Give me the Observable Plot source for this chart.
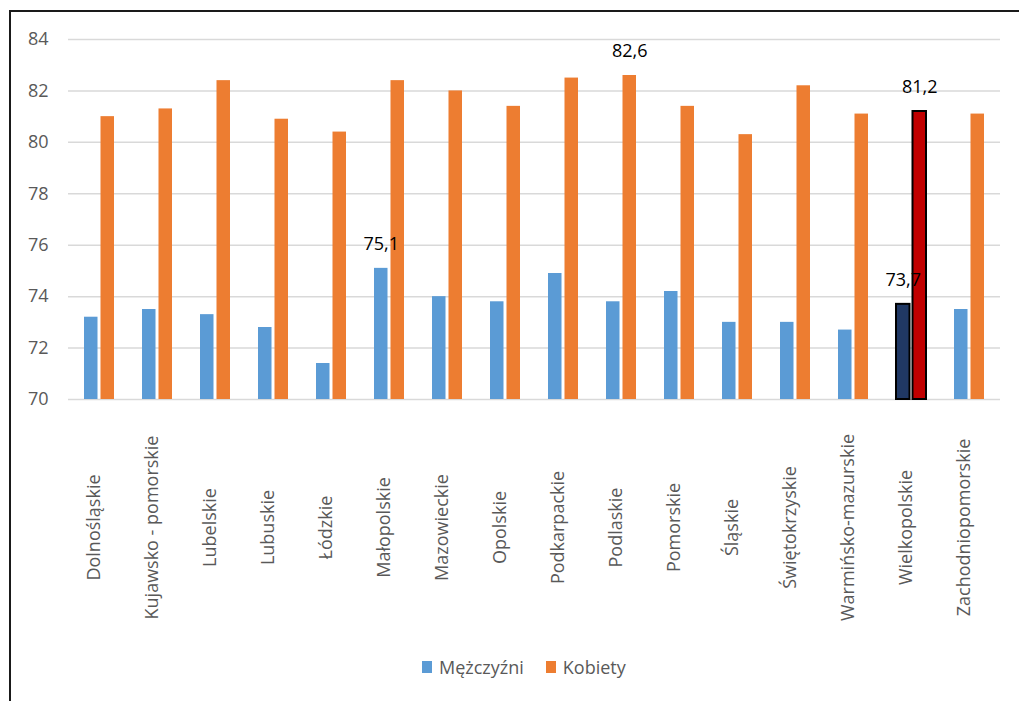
<!DOCTYPE html>
<html>
<head>
<meta charset="utf-8">
<script src="https://cdn.jsdelivr.net/npm/d3@7"></script>
<script src="https://cdn.jsdelivr.net/npm/@observablehq/plot@0.6"></script>
<style>
  html, body { margin: 0; padding: 0; background: #fff; overflow: hidden; }
  #frame { position: absolute; left: 9px; top: 10px; width: 1100px; height: 800px;
           border-left: 2px solid #1a1a1a; border-top: 2px solid #1a1a1a; }
  #chart { position: absolute; left: 0; top: 0; }
  #legend { position: absolute; top: 655px; left: 422px; display: flex; align-items: center;
            font-family: "Open Sans", sans-serif; font-size: 18px; color: #595959; }
  #legend .item { display: flex; align-items: center; margin-right: 22px; }
  #legend .sw { width: 10px; height: 12px; margin-right: 7px; }
</style>
</head>
<body>
<div id="frame"></div>
<div id="chart"></div>
<div id="legend"></div>
<script>
const regions = ["Dolnośląskie", "Kujawsko - pomorskie", "Lubelskie", "Lubuskie", "Łódzkie",
  "Małopolskie", "Mazowieckie", "Opolskie", "Podkarpackie", "Podlaskie", "Pomorskie",
  "Śląskie", "Świętokrzyskie", "Warmińsko-mazurskie", "Wielkopolskie", "Zachodniopomorskie"];
const men   = [73.2, 73.5, 73.3, 72.8, 71.4, 75.1, 74.0, 73.8, 74.9, 73.8, 74.2, 73.0, 73.0, 72.7, 73.7, 73.5];
const women = [81.0, 81.3, 82.4, 80.9, 80.4, 82.4, 82.0, 81.4, 82.5, 82.6, 81.4, 80.3, 82.2, 81.1, 81.2, 81.1];
const seriesNames = ["Mężczyźni", "Kobiety"];
const seriesColors = ["#5B9BD5", "#ED7D31"];
const highlightRegion = "Wielkopolskie";
const highlightColors = ["#203864", "#C00000"];
const yTicks = [70, 72, 74, 76, 78, 80, 82, 84];
const menLabeled = ["Małopolskie", "Wielkopolskie"];
const womenLabeled = ["Podlaskie", "Wielkopolskie"];

const menData = regions.map((r, i) => ({region: r, value: men[i]}));
const womenData = regions.map((r, i) => ({region: r, value: women[i]}));
const fmt = v => v.toFixed(1).replace(".", ",");
const half = 8.25;

const plot = Plot.plot({
  width: 1019,
  height: 650,
  marginLeft: 68,
  marginRight: 19,
  marginTop: 39,
  marginBottom: 251,
  style: {fontFamily: "'Open Sans', sans-serif", background: "transparent", overflow: "visible"},
  x: {domain: regions, paddingInner: 0.485, paddingOuter: 0.2425, axis: null},
  y: {domain: [70, 84], axis: null},
  marks: [
    Plot.gridY(yTicks, {stroke: "#D9D9D9", strokeOpacity: 1, strokeWidth: 1.5}),
    Plot.barY(menData, {
      x: "region", y1: 70, y2: "value", insetRight: 16.5,
      fill: d => d.region === highlightRegion ? highlightColors[0] : seriesColors[0],
      stroke: d => d.region === highlightRegion ? "#000" : "none", strokeWidth: 2
    }),
    Plot.barY(womenData, {
      x: "region", y1: 70, y2: "value", insetLeft: 16.5,
      fill: d => d.region === highlightRegion ? highlightColors[1] : seriesColors[1],
      stroke: d => d.region === highlightRegion ? "#000" : "none", strokeWidth: 2
    }),
    Plot.text(menData.filter(d => menLabeled.includes(d.region)), {
      x: "region", y: "value", text: d => fmt(d.value),
      dx: -half, dy: -24, fontSize: 18, fill: "#000"
    }),
    Plot.text(womenData.filter(d => womenLabeled.includes(d.region)), {
      x: "region", y: "value", text: d => fmt(d.value),
      dx: half, dy: -24, fontSize: 18, fill: "#000"
    }),
    Plot.axisY(yTicks, {tickSize: 0, tickPadding: 20, fontSize: 18, color: "#595959", label: null, tickFormat: d => d}),
    Plot.text(regions, {
      x: d => d, frameAnchor: "bottom", rotate: -90, textAnchor: "middle", dy: 128,
      fontSize: 18, fill: "#595959"
    })
  ]
});
document.getElementById("chart").appendChild(plot);

const legend = document.getElementById("legend");
seriesNames.forEach((n, i) => {
  const it = document.createElement("div");
  it.className = "item";
  it.innerHTML = `<div class="sw" style="background:${seriesColors[i]}"></div><span>${n}</span>`;
  legend.appendChild(it);
});
</script>
</body>
</html>
